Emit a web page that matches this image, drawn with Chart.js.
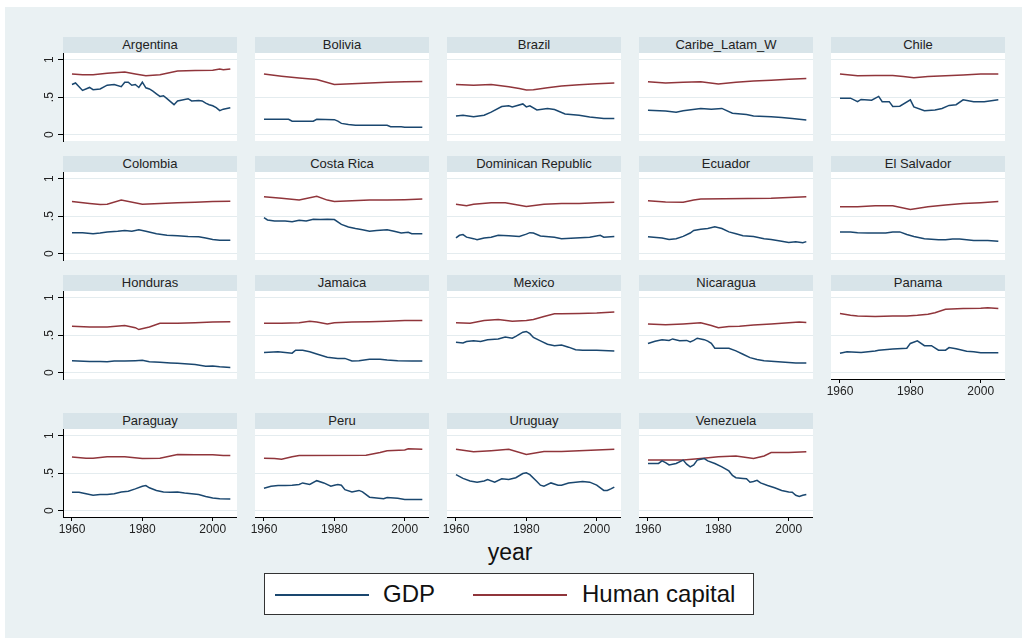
<!DOCTYPE html>
<html>
<head>
<meta charset="utf-8">
<script src="https://cdn.jsdelivr.net/npm/chart.js@4.4.0/dist/chart.umd.min.js"></script>
<style>
  body { margin: 0; width: 1029px; height: 638px; background: #fff; position: relative; overflow: hidden;
         font-family: "Liberation Sans", Arial, sans-serif; }
  #bg { position: absolute; left: 5px; top: 7px; width: 1017px; height: 631px; background: #eaf1f3; }
  .head { position: absolute; width: 174px; height: 16px; line-height: 16px; background: #d8e4e9;
          text-align: center; font-size: 13px; color: #222; }
  canvas { position: absolute; }
  #xtitle { position: absolute; left: 440px; top: 539px; width: 140px; text-align: center; font-size: 23px; color: #111; }
  #legend { position: absolute; left: 264px; top: 573px; width: 488px; height: 40px; background: #fff;
            border: 1px solid #333; font-size: 24px; color: #111; }
  #legend .line { position: absolute; top: 20px; height: 2px; width: 94px; }
  #legend .txt { position: absolute; top: 6px; line-height: 28px; }
</style>
</head>
<body>
<div id="bg"></div>
<div id="xtitle">year</div>
<div id="legend">
  <div class="line" style="left:10px;background:#1a476f"></div><div class="txt" style="left:118px">GDP</div>
  <div class="line" style="left:208px;background:#90353b"></div><div class="txt" style="left:317px">Human capital</div>
</div>
<script>
const countries = ['Argentina', 'Bolivia', 'Brazil', 'Caribe_Latam_W', 'Chile',
  'Colombia', 'Costa Rica', 'Dominican Republic', 'Ecuador', 'El Salvador',
  'Honduras', 'Jamaica', 'Mexico', 'Nicaragua', 'Panama',
  'Paraguay', 'Peru', 'Uruguay', 'Venezuela'];
const xTicks = [1960, 1980, 2000];
const yTicks = [0, 0.5, 1];
const yTickLabels = ['0', '.5', '1'];

// [year, value] readings, one list per country
const gdp = [
  [[1960,.67],[1961,.69],[1963,.59],[1965,.63],[1966,.60],[1968,.61],[1970,.66],[1972,.67],[1974,.64],[1975,.70],[1976,.70],[1977,.66],[1978,.67],[1979,.63],[1980,.70],[1981,.625],[1982,.61],[1983,.58],[1984,.545],[1985,.51],[1986,.52],[1987,.48],[1988,.44],[1989,.40],[1990,.45],[1991,.46],[1993,.48],[1994,.45],[1996,.455],[1997,.45],[1998,.42],[1999,.40],[2000,.385],[2001,.36],[2002,.32],[2003,.34],[2005,.36]],
  [[1960,.205],[1967,.205],[1968,.18],[1974,.18],[1975,.205],[1980,.20],[1981,.18],[1982,.15],[1984,.135],[1986,.125],[1995,.125],[1996,.105],[1999,.105],[2000,.10],[2005,.10]],
  [[1960,.25],[1962,.26],[1965,.24],[1968,.26],[1970,.30],[1973,.375],[1975,.385],[1976,.37],[1979,.41],[1980,.37],[1981,.385],[1983,.33],[1986,.35],[1988,.335],[1991,.275],[1995,.26],[1998,.235],[2002,.215],[2005,.215]],
  [[1960,.325],[1965,.315],[1968,.30],[1970,.32],[1975,.35],[1978,.34],[1981,.35],[1984,.285],[1988,.27],[1990,.25],[1995,.24],[1998,.23],[2001,.215],[2005,.195]],
  [[1960,.487],[1963,.487],[1965,.44],[1966,.47],[1969,.46],[1971,.51],[1972,.44],[1974,.44],[1975,.375],[1977,.38],[1980,.465],[1981,.37],[1984,.32],[1987,.33],[1989,.35],[1991,.39],[1993,.40],[1995,.465],[1998,.44],[2001,.44],[2005,.465]],
  [[1960,.28],[1963,.28],[1966,.265],[1968,.275],[1970,.29],[1973,.30],[1975,.31],[1977,.30],[1979,.32],[1981,.30],[1984,.265],[1987,.245],[1990,.24],[1993,.23],[1996,.225],[1998,.21],[2000,.19],[2002,.18],[2005,.18]],
  [[1960,.48],[1961,.45],[1963,.435],[1966,.435],[1968,.425],[1970,.445],[1972,.435],[1974,.46],[1976,.455],[1978,.46],[1980,.455],[1982,.39],[1984,.355],[1986,.335],[1988,.32],[1990,.30],[1992,.31],[1995,.32],[1997,.30],[1999,.275],[2001,.285],[2002,.265],[2005,.265]],
  [[1960,.21],[1961,.245],[1962,.255],[1963,.22],[1965,.20],[1966,.185],[1968,.21],[1970,.22],[1972,.245],[1975,.24],[1978,.23],[1980,.26],[1981,.28],[1982,.275],[1984,.235],[1988,.22],[1990,.20],[1994,.21],[1998,.22],[2001,.245],[2002,.22],[2005,.23]],
  [[1960,.225],[1964,.21],[1966,.19],[1968,.20],[1970,.23],[1972,.275],[1973,.31],[1975,.325],[1977,.335],[1979,.36],[1981,.335],[1983,.29],[1985,.265],[1987,.24],[1990,.23],[1993,.20],[1995,.19],[1998,.165],[2000,.15],[2002,.16],[2004,.145],[2005,.16]],
  [[1960,.29],[1963,.29],[1965,.28],[1968,.275],[1973,.275],[1975,.29],[1977,.29],[1979,.255],[1981,.23],[1984,.20],[1988,.185],[1990,.185],[1992,.195],[1994,.195],[1996,.185],[1998,.175],[2002,.175],[2005,.165]],
  [[1960,.16],[1965,.15],[1968,.15],[1970,.145],[1972,.155],[1975,.155],[1978,.16],[1980,.165],[1982,.145],[1985,.14],[1988,.13],[1990,.125],[1993,.115],[1995,.11],[1998,.085],[2000,.09],[2002,.08],[2005,.07]],
  [[1960,.27],[1964,.28],[1968,.26],[1969,.30],[1971,.30],[1973,.28],[1975,.25],[1978,.205],[1981,.19],[1983,.19],[1985,.155],[1987,.16],[1990,.18],[1993,.18],[1995,.17],[1998,.16],[2002,.155],[2005,.155]],
  [[1960,.405],[1962,.395],[1963,.415],[1965,.425],[1967,.415],[1969,.44],[1972,.45],[1974,.475],[1976,.46],[1977,.485],[1979,.54],[1980,.55],[1981,.52],[1982,.47],[1984,.425],[1986,.38],[1988,.36],[1990,.37],[1992,.34],[1994,.305],[1996,.30],[2000,.30],[2005,.29]],
  [[1960,.39],[1962,.42],[1964,.44],[1966,.43],[1967,.45],[1969,.425],[1971,.43],[1972,.41],[1973,.43],[1974,.46],[1976,.44],[1977,.42],[1978,.39],[1979,.325],[1983,.325],[1985,.29],[1987,.245],[1989,.20],[1991,.175],[1993,.16],[1996,.15],[1999,.14],[2002,.13],[2005,.13]],
  [[1960,.26],[1962,.28],[1966,.27],[1970,.29],[1971,.30],[1975,.315],[1979,.325],[1980,.39],[1982,.425],[1984,.36],[1986,.36],[1988,.30],[1990,.30],[1991,.335],[1993,.32],[1996,.285],[1998,.28],[2000,.265],[2005,.265]],
  [[1960,.245],[1962,.245],[1964,.225],[1966,.205],[1968,.215],[1970,.215],[1972,.225],[1974,.25],[1976,.26],[1978,.29],[1980,.325],[1981,.335],[1982,.305],[1984,.27],[1986,.25],[1988,.245],[1990,.25],[1992,.235],[1994,.225],[1996,.215],[1998,.19],[2000,.17],[2002,.16],[2005,.155]],
  [[1960,.30],[1962,.325],[1964,.335],[1966,.335],[1968,.34],[1970,.35],[1971,.37],[1973,.35],[1975,.40],[1977,.37],[1979,.325],[1980,.34],[1981,.35],[1982,.34],[1983,.28],[1985,.25],[1987,.27],[1988,.25],[1990,.18],[1992,.17],[1994,.16],[1995,.175],[1998,.165],[2000,.15],[2005,.148]],
  [[1960,.48],[1962,.43],[1964,.395],[1966,.38],[1968,.395],[1969,.415],[1971,.38],[1973,.425],[1975,.415],[1977,.44],[1979,.495],[1980,.505],[1981,.48],[1983,.39],[1984,.34],[1985,.325],[1987,.37],[1989,.34],[1990,.34],[1992,.37],[1994,.38],[1996,.39],[1998,.38],[2000,.34],[2002,.27],[2003,.27],[2004,.29],[2005,.315]],
  [[1960,.63],[1963,.63],[1964,.665],[1965,.64],[1966,.61],[1968,.63],[1970,.675],[1971,.62],[1972,.585],[1973,.61],[1974,.675],[1975,.685],[1976,.695],[1977,.665],[1979,.63],[1981,.585],[1983,.53],[1984,.47],[1985,.44],[1987,.43],[1988,.425],[1989,.38],[1990,.39],[1991,.405],[1992,.37],[1994,.335],[1996,.305],[1998,.27],[2000,.25],[2001,.245],[2002,.205],[2003,.19],[2004,.205],[2005,.215]]
];

const humanCapital = [
  [[1960,.81],[1963,.80],[1966,.80],[1970,.82],[1975,.835],[1978,.81],[1981,.785],[1985,.80],[1988,.83],[1990,.85],[1995,.855],[2000,.86],[2002,.875],[2003,.865],[2005,.875]],
  [[1960,.81],[1965,.78],[1970,.755],[1975,.735],[1980,.67],[1985,.68],[1990,.69],[1995,.70],[2000,.705],[2005,.71]],
  [[1960,.67],[1965,.66],[1970,.67],[1975,.64],[1978,.615],[1980,.595],[1982,.60],[1986,.625],[1990,.65],[1995,.665],[2000,.68],[2005,.69]],
  [[1960,.705],[1965,.69],[1970,.70],[1975,.705],[1980,.675],[1985,.70],[1990,.715],[1995,.725],[2000,.74],[2005,.75]],
  [[1960,.81],[1965,.785],[1970,.79],[1975,.79],[1978,.775],[1981,.76],[1985,.775],[1990,.785],[1995,.795],[2000,.81],[2005,.81]],
  [[1960,.695],[1965,.67],[1968,.655],[1970,.66],[1974,.715],[1980,.66],[1985,.67],[1990,.68],[1995,.685],[2000,.695],[2005,.70]],
  [[1960,.76],[1965,.74],[1970,.715],[1975,.765],[1978,.715],[1980,.695],[1985,.705],[1990,.715],[1995,.715],[2000,.72],[2005,.73]],
  [[1960,.66],[1963,.64],[1965,.66],[1970,.68],[1974,.68],[1980,.63],[1985,.66],[1990,.67],[1995,.67],[2000,.68],[2005,.685]],
  [[1960,.705],[1965,.69],[1970,.685],[1973,.715],[1975,.73],[1995,.74],[2000,.75],[2005,.76]],
  [[1960,.625],[1965,.625],[1970,.64],[1975,.64],[1980,.59],[1985,.625],[1990,.65],[1995,.67],[2000,.68],[2005,.695]],
  [[1960,.62],[1965,.61],[1970,.61],[1975,.63],[1978,.60],[1979,.575],[1982,.61],[1985,.66],[1990,.66],[1995,.665],[2000,.675],[2005,.68]],
  [[1960,.66],[1965,.66],[1970,.665],[1973,.685],[1975,.675],[1978,.65],[1980,.665],[1985,.675],[1990,.68],[1995,.685],[2000,.695],[2005,.695]],
  [[1960,.665],[1964,.66],[1968,.695],[1972,.71],[1976,.685],[1980,.695],[1982,.71],[1985,.75],[1988,.785],[1990,.785],[1995,.79],[2000,.795],[2005,.81]],
  [[1960,.65],[1965,.64],[1970,.65],[1975,.665],[1978,.63],[1980,.60],[1983,.615],[1986,.62],[1990,.635],[1995,.65],[2000,.665],[2003,.675],[2005,.67]],
  [[1960,.79],[1963,.765],[1965,.755],[1970,.75],[1975,.755],[1979,.755],[1982,.765],[1985,.78],[1987,.80],[1990,.845],[1995,.855],[2000,.86],[2002,.865],[2005,.855]],
  [[1960,.715],[1964,.70],[1966,.70],[1970,.72],[1975,.72],[1980,.695],[1985,.70],[1988,.73],[1990,.75],[1995,.745],[2000,.745],[2003,.735],[2005,.735]],
  [[1960,.70],[1963,.695],[1965,.685],[1968,.72],[1970,.735],[1989,.74],[1993,.775],[1995,.80],[2000,.81],[2001,.825],[2005,.82]],
  [[1960,.82],[1965,.785],[1970,.80],[1975,.82],[1980,.75],[1985,.79],[1990,.79],[1995,.80],[2000,.81],[2005,.82]],
  [[1960,.675],[1970,.675],[1975,.695],[1980,.72],[1985,.73],[1990,.695],[1993,.73],[1995,.775],[2000,.775],[2005,.785]]
];

const fontFamily = '"Liberation Sans", Arial, sans-serif';
const colLeft = [63, 255, 447, 639, 831];
const headTop = [37, 156, 275, 413];

// white plot region behind the lines
const plotBackground = {
  id: 'plotBackground',
  beforeDraw(chart) {
    const { ctx, chartArea: a } = chart;
    ctx.save();
    ctx.fillStyle = '#fff';
    ctx.fillRect(a.left, a.top, a.right - a.left, a.bottom - a.top);
    ctx.restore();
  }
};

countries.forEach((name, i) => {
  const row = Math.floor(i / 5), col = i % 5;
  const left = colLeft[col], top = headTop[row];
  const firstCol = col === 0;
  const hasX = i >= 14;

  const head = document.createElement('div');
  head.className = 'head';
  head.style.left = left + 'px';
  head.style.top = top + 'px';
  head.textContent = name;
  document.body.appendChild(head);

  const canvas = document.createElement('canvas');
  canvas.width = 219;
  canvas.height = 125;
  canvas.style.left = (left - 45) + 'px';
  canvas.style.top = (top + 16 - 12) + 'px';
  document.body.appendChild(canvas);

  new Chart(canvas, {
    type: 'line',
    data: {
      datasets: [{
        label: 'GDP',
        data: gdp[i].map(p => ({ x: p[0], y: p[1] })),
        borderColor: '#1a476f',
        borderWidth: 1.5,
        pointRadius: 0,
        tension: 0
      }, {
        label: 'Human capital',
        data: humanCapital[i].map(p => ({ x: p[0], y: p[1] })),
        borderColor: '#90353b',
        borderWidth: 1.5,
        pointRadius: 0,
        tension: 0
      }]
    },
    options: {
      responsive: false,
      animation: false,
      events: [],
      layout: { padding: { top: 12, left: firstCol ? 0 : 45, right: 0, bottom: 0 } },
      plugins: { legend: { display: false }, tooltip: { enabled: false } },
      scales: {
        x: {
          type: 'linear',
          min: 1957.45,
          max: 2006.9,
          display: true,
          afterBuildTicks: s => { s.ticks = xTicks.map(v => ({ value: v })); },
          afterFit: s => { s.height = 25; },
          grid: { display: hasX, drawOnChartArea: false, drawTicks: true, tickLength: 4, tickColor: '#000' },
          border: { display: hasX, color: '#000', width: 1 },
          ticks: { display: hasX, padding: 1, color: '#222', font: { size: 12, family: fontFamily },
                   maxRotation: 0, autoSkip: false, callback: v => String(v) }
        },
        y: {
          min: -0.085,
          max: 1.09,
          afterBuildTicks: s => { s.ticks = yTicks.map(v => ({ value: v })); },
          afterFit: s => { s.width = firstCol ? 45 : 0; },
          grid: { color: '#e4ecef', lineWidth: 1, drawTicks: firstCol, tickLength: 5, tickColor: '#000' },
          border: { display: firstCol, color: '#000', width: 1 },
          ticks: { display: firstCol, padding: 3, crossAlign: 'center', minRotation: 90, maxRotation: 90,
                   color: '#222', font: { size: 12, family: fontFamily },
                   callback: v => yTickLabels[yTicks.indexOf(v)] }
        }
      }
    },
    plugins: [plotBackground]
  });
});
</script>
</body>
</html>
